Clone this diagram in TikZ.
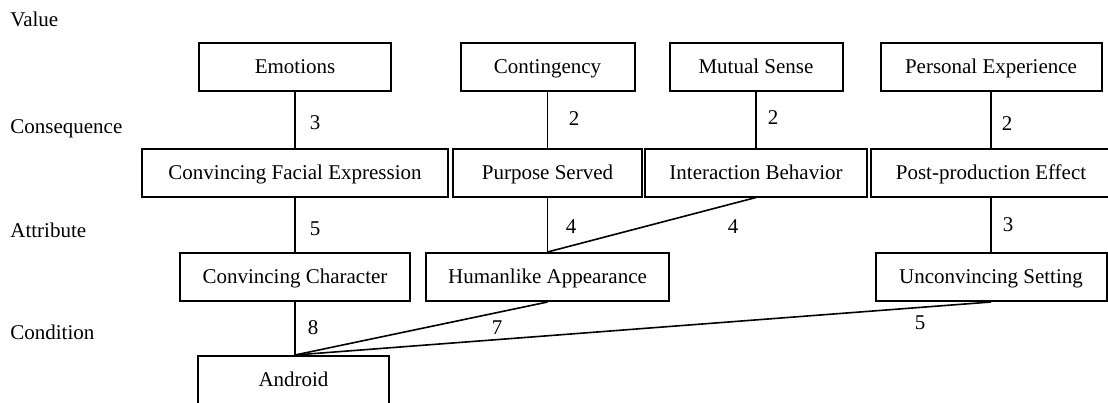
\documentclass[tikz,border=0pt]{standalone}
\usepackage{fontspec}
\setmainfont{Liberation Serif}
\begin{document}
\begin{tikzpicture}[x=0.5pt,y=-0.5pt,
  font=\fontsize{10.5}{12}\selectfont,
  box/.style={draw, line width=1pt, inner sep=0pt, minimum height=24pt,
    text height=0.66em, text depth=0pt},
  link/.style={line width=0.8pt},
  num/.style={inner sep=0pt},
  level/.style={anchor=base west, inner sep=0pt}]
\useasboundingbox (0,0) rectangle (1108,402);

% level labels
\node[level] (lv) at (10,26) {Value};
\node[level] (lc) at (10,133) {Consequence};
\node[level] (la) at (10,237) {Attribute};
\node[level] (ld) at (10,339) {Condition};

% values
\node[box, minimum width=96pt]   (emo) at (295,67)   {Emotions};
\node[box, minimum width=87pt]   (con) at (547.5,67) {Contingency};
\node[box, minimum width=86.5pt] (mut) at (756,67)   {Mutual Sense};
\node[box, minimum width=110.5pt](per) at (991,67)   {Personal Experience};

% consequences
\node[box, minimum width=153pt]  (cfe) at (295,172.5)   {Convincing Facial Expression};
\node[box, minimum width=94.5pt] (ps)  at (547.5,172.5) {Purpose Served};
\node[box, minimum width=111pt]  (ib)  at (756,172.5)   {Interaction Behavior};
\node[box, minimum width=120pt]  (ppe) at (991,172.5)   {Post-production Effect};

% attributes
\node[box, minimum width=115pt]  (cc) at (295,277)   {Convincing Character};
\node[box, minimum width=121.5pt](ha) at (547.5,277) {Humanlike Appearance};
\node[box, minimum width=115.5pt](us) at (991,277)   {Unconvincing Setting};

% condition
\node[box, minimum width=95.5pt] (and) at (293.5,380) {Android};
\coordinate (atop) at (cc.south |- and.north);

% links
\draw[link] (emo.south) -- (cfe.north);
\draw[link] (con.south) -- (ps.north);
\draw[link] (mut.south) -- (ib.north);
\draw[link] (per.south) -- (ppe.north);
\draw[link] (cfe.south) -- (cc.north);
\draw[link] (ps.south)  -- (ha.north);
\draw[link] (ib.south)  -- (ha.north);
\draw[link] (ppe.south) -- (us.north);
\draw[link] (cc.south)  -- (atop);
\draw[link] (ha.south)  -- (atop);
\draw[link] (us.south)  -- (atop);

% link weights
\node[num] (w1)  at (315,123)  {3};
\node[num] (w2)  at (574,119)  {2};
\node[num] (w3)  at (773,118)  {2};
\node[num] (w4)  at (1007,124) {2};
\node[num] (w5)  at (315,229)  {5};
\node[num] (w6)  at (571,227)  {4};
\node[num] (w7)  at (733,227)  {4};
\node[num] (w8)  at (1008,225) {3};
\node[num] (w9)  at (313,328)  {8};
\node[num] (w10) at (497,328)  {7};
\node[num] (w11) at (920,323)  {5};
\end{tikzpicture}
\end{document}
